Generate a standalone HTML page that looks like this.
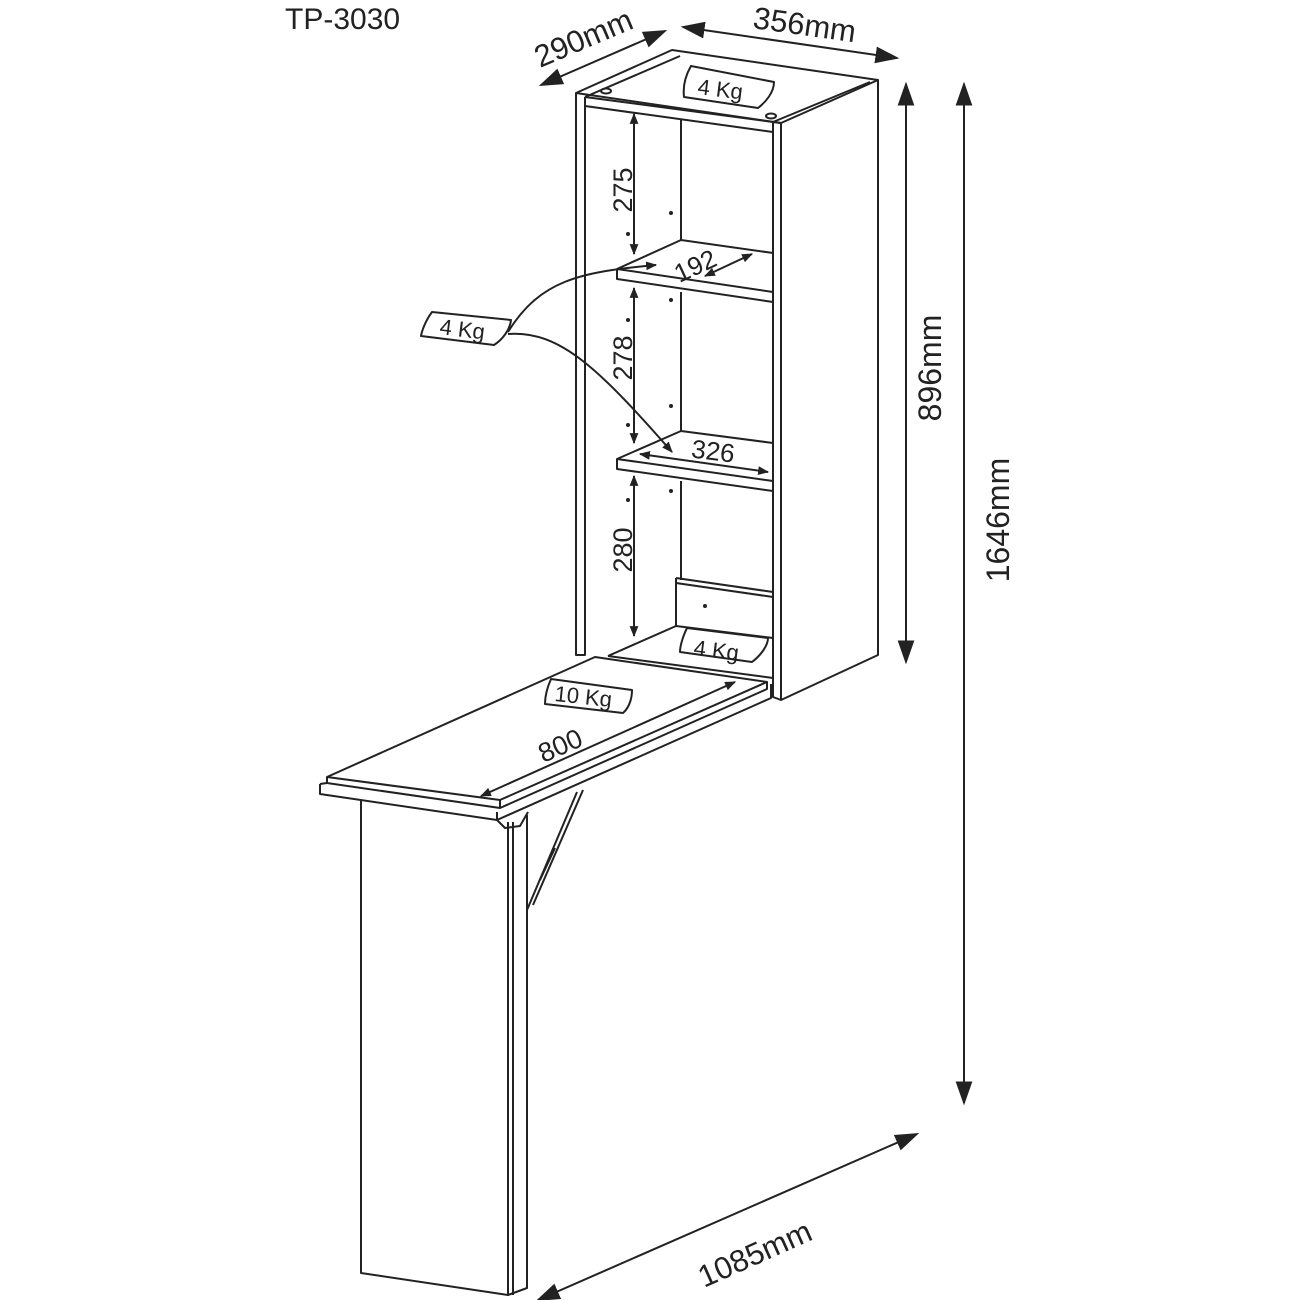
<!DOCTYPE html>
<html><head><style>body{margin:0;background:#fff}svg{display:block}</style></head><body>
<svg width="1300" height="1300" viewBox="0 0 1300 1300" xmlns="http://www.w3.org/2000/svg">
<defs>
<marker id="a" viewBox="0 0 10 10" refX="9" refY="5" markerWidth="11" markerHeight="11" orient="auto-start-reverse" markerUnits="userSpaceOnUse"><path d="M0,1 L10,5 L0,9 z" fill="#222"/></marker>
<marker id="b" viewBox="0 0 10 10" refX="9" refY="5" markerWidth="24" markerHeight="24" orient="auto-start-reverse" markerUnits="userSpaceOnUse"><path d="M0,1.5 L10,5 L0,8.5 z" fill="#222"/></marker>
</defs>
<g fill="none" stroke="#222" stroke-width="2" stroke-linejoin="round">
<path d="M576,93 L672,50 L878,80 L781,123 Z" fill="#fff"/>
<path d="M585,97 L680,56"/>
<path d="M773,122 L870,82"/>
<path d="M576,93 L576,655 L585,655 L585,97"/>
<path d="M585,97 L773,122 L773,132 L585,106"/>
<path d="M773,122 L781,123 L781,700 L773,697 Z"/>
<path d="M878,80 L878,655 L781,700"/>
<ellipse cx="606" cy="91" rx="5" ry="2.5"/>
<ellipse cx="771" cy="116" rx="5" ry="2.5"/>
<path d="M681,120 L681,240 M681,292 L681,431 M681,481 L681,580"/>
<path d="M617,269 L681,240 L773,253 M617,269 L773,292 L773,302 L617,279 Z"/>
<path d="M617,459 L681,431 L773,443 M617,459 L773,481 L773,491 L617,469 Z"/>
<path d="M676,578 L773,592 M676,578 L676,626 M676,583 L773,597"/>
<path d="M608,656 L676,626 L773,638 M608,656 L773,678"/>
<path d="M595,657 L767,682 L500,800 L327,777 Z" fill="#fff"/>
<path d="M327,777 L327,783 L500,808 L767,689 L767,682"/>
<path d="M320,784 L320,794 L497,820 L771,698 L771,684"/>
<path d="M320,784 L327,783"/>
<path d="M500,808 L500,800"/>
<path d="M497,820 L497,812"/>
<path d="M361,800 L361,1273 L508,1295 L508,822"/>
<path d="M513,822 L513,1295 M527,815 L527,1288 L508,1295"/>
<path d="M497,820 L505,828 L520,826 L528,812"/>
<path d="M527,910 L577,792 M533,905 L583,790"/>
<path d="M540,880 L555,848"/>
<path d="M634,114 L634,254" marker-start="url(#a)" marker-end="url(#a)"/>
<path d="M634,288 L634,443" marker-start="url(#a)" marker-end="url(#a)"/>
<path d="M634,476 L634,636" marker-start="url(#a)" marker-end="url(#a)"/>
<path d="M705,276 L752,254" marker-start="url(#a)" marker-end="url(#a)"/>
<path d="M640,454 L768,472" marker-start="url(#a)" marker-end="url(#a)"/>
<path d="M481,796 L735,682" marker-start="url(#a)" marker-end="url(#a)"/>
<path d="M508,332 C540,280 580,272 656,265" marker-end="url(#a)"/>
<path d="M508,334 C560,330 600,370 672,452" marker-end="url(#a)"/>
<path d="M541,85 L665,31" marker-start="url(#b)" marker-end="url(#b)"/>
<path d="M683,27 L897,58" marker-start="url(#b)" marker-end="url(#b)"/>
<path d="M906,84 L906,662" marker-start="url(#b)" marker-end="url(#b)"/>
<path d="M964,84 L964,1103" marker-start="url(#b)" marker-end="url(#b)"/>
<path d="M538,1300 L917,1134" marker-start="url(#b)" marker-end="url(#b)"/>
<path d="M691,66 C684,78 683,88 684,97 L758,108 C766,102 774,92 774,82 Z" fill="#fff"/>
<path d="M432,312 C426,320 422,330 421,336 L494,345 C502,340 510,330 511,320 Z" fill="#fff"/>
<path d="M687,628 C683,636 680,646 680,652 L752,662 C760,656 768,646 768,638 Z" fill="#fff"/>
<path d="M551,679 C547,688 545,697 545,704 L623,713 C630,707 632,697 632,690 Z" fill="#fff"/>
</g>
<g fill="#222" font-family="Liberation Sans, sans-serif">
<circle cx="671" cy="213" r="2"/><circle cx="628" cy="234" r="2"/><circle cx="671" cy="300" r="2"/><circle cx="628" cy="320" r="2"/>
<circle cx="671" cy="406" r="2"/><circle cx="628" cy="425" r="2"/><circle cx="671" cy="491" r="2"/><circle cx="628" cy="500" r="2"/>
<circle cx="705" cy="606" r="2"/>
<text x="285" y="29" font-size="30">TP-3030</text>
<text x="0" y="0" font-size="31" transform="translate(540,68) rotate(-23)">290mm</text>
<text x="0" y="0" font-size="31" transform="translate(752,28) rotate(8)">356mm</text>
<text x="0" y="0" font-size="32" text-anchor="middle" transform="translate(941,368) rotate(-90)">896mm</text>
<text x="0" y="0" font-size="32" text-anchor="middle" transform="translate(1009,520) rotate(-90)">1646mm</text>
<text x="0" y="0" font-size="31" transform="translate(704,1288) rotate(-24)">1085mm</text>
<text x="0" y="0" font-size="27" text-anchor="middle" transform="translate(632,190) rotate(-90)">275</text>
<text x="0" y="0" font-size="27" text-anchor="middle" transform="translate(632,358) rotate(-90)">278</text>
<text x="0" y="0" font-size="27" text-anchor="middle" transform="translate(632,550) rotate(-90)">280</text>
<text x="0" y="0" font-size="26" text-anchor="middle" transform="translate(699,274) rotate(-25)">192</text>
<text x="0" y="0" font-size="26" text-anchor="middle" transform="translate(712,460) rotate(7)">326</text>
<text x="0" y="0" font-size="27" text-anchor="middle" transform="translate(564,754) rotate(-24)">800</text>
<text x="0" y="0" font-size="22" transform="translate(697,94) rotate(7)">4 Kg</text>
<text x="0" y="0" font-size="22" transform="translate(439,334) rotate(7)">4 Kg</text>
<text x="0" y="0" font-size="22" transform="translate(693,655) rotate(7)">4 Kg</text>
<text x="0" y="0" font-size="22" transform="translate(554,701) rotate(6)">10 Kg</text>
</g>
</svg>
</body></html>
